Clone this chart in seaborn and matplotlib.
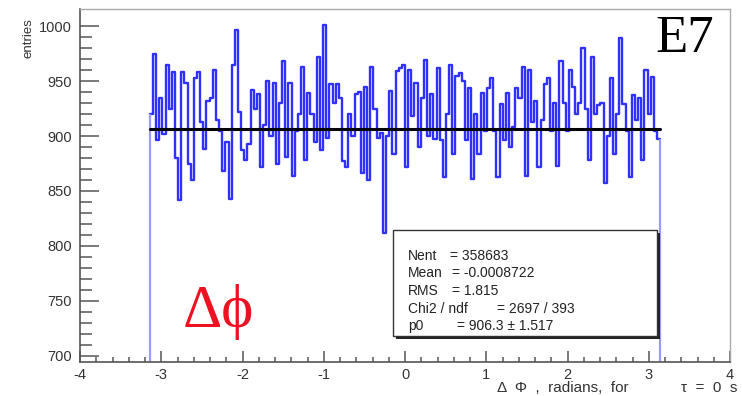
import numpy as np
import pandas as pd
import matplotlib
matplotlib.use("Agg")
import matplotlib.pyplot as plt
import seaborn as sns
from matplotlib.ticker import MultipleLocator, FixedLocator
from matplotlib.patches import Rectangle

# ---------------- data ----------------
counts = [
    920, 975, 896, 935, 902, 965, 925, 958, 880, 842, 958, 948, 875, 860, 953, 958,
    913, 888, 932, 935, 960, 915, 905, 868, 895, 843, 965, 996, 922, 887, 878, 893,
    942, 925, 938, 872, 910, 950, 900,
    948, 875, 930, 968, 881, 948, 864, 905, 920, 963, 878, 939, 920, 895, 972, 887,
    1001, 898, 947, 930, 947, 935, 877, 872, 920, 900, 938, 940, 866, 945, 860, 963,
    925, 898, 903, 812, 900, 941, 884, 959, 962,
    965, 872, 960, 918, 948, 890, 935, 969, 900, 938, 897, 962, 896, 863, 920, 965,
    884, 955, 957, 950, 896, 944, 861, 920, 884, 939, 905, 944, 953, 905, 863, 929,
    896, 939, 890, 908, 944, 935, 963, 864, 960, 913,
    932, 872, 915, 947, 953, 905, 930, 873, 968, 930, 905, 960, 945, 920, 930, 980,
    925, 878, 972, 920, 928, 930, 857, 900, 953, 884, 920, 989, 929, 905, 863, 937,
    915, 935, 878, 960, 920, 954, 905, 897,
]
x_range = [-np.pi, np.pi]
fit_p0 = 906.3
x_ticks = [-4, -3, -2, -1, 0, 1, 2, 3, 4]
y_ticks = [700, 750, 800, 850, 900, 950, 1000]
stat_labels = ["Nent", "Mean", "RMS", "Chi2 / ndf", "p0"]
stat_values = ["= 358683", "= -0.0008722", "= 1.815", "= 2697 / 393", "= 906.3 \u00b1 1.517"]

# ---------------- figure ----------------
sns.set_theme(style="white")
plt.rcParams["font.family"] = ["Liberation Sans", "DejaVu Sans"]

W, H = 742, 396
fig = plt.figure(figsize=(W / 100, H / 100), dpi=100)
fig.patch.set_facecolor("white")


def fx(px):
    return px / W


def fy(py):
    return 1 - py / H


ax = fig.add_axes([fx(80), fy(362), fx(730) - fx(80), fy(9) - fy(362)])
ax.set_facecolor("white")
y_lo, y_hi = 694.5, 1015.5

edges = np.linspace(x_range[0], x_range[1], len(counts) + 1)
centers = 0.5 * (edges[:-1] + edges[1:])
df = pd.DataFrame({"phi": centers, "n": np.asarray(counts, dtype=float)})
sns.histplot(data=df, x="phi", weights="n", bins=len(counts), binrange=tuple(x_range),
             element="step", fill=False, color="#3030ff", linewidth=1.7, ax=ax)
# outer edges of the histogram dropping to the baseline
ax.vlines([edges[0], edges[-1]], y_lo - 10, [counts[0], counts[-1]],
          color="#9a9aff", linewidth=1.6)

fit_df = pd.DataFrame({"x": x_range, "y": [fit_p0, fit_p0]})
sns.lineplot(data=fit_df, x="x", y="y", color="black", linewidth=2.2, ax=ax)

ax.set_xlim(-4, 4)
ax.set_ylim(y_lo, y_hi)
ax.set_xticks(x_ticks)
ax.set_xticklabels([str(t) for t in x_ticks])
ax.set_yticks(y_ticks)
ax.set_yticklabels([str(t) for t in y_ticks])
ax.xaxis.set_minor_locator(MultipleLocator(0.2))
ax.yaxis.set_minor_locator(FixedLocator(list(range(700, 1001, 10))))
ax.set_xlabel("")
ax.set_ylabel("")

tick_col = "#555555"
ax.tick_params(axis="both", which="both", direction="in", color=tick_col,
               labelcolor="#333333", labelsize=10.5, width=1.1)
ax.tick_params(axis="y", which="both", pad=6)
ax.tick_params(axis="x", which="both", pad=4)
ax.tick_params(axis="y", which="major", length=13.5, left=True)
ax.tick_params(axis="y", which="minor", length=8.5, left=True)
ax.tick_params(axis="x", which="major", length=8, bottom=True)
ax.tick_params(axis="x", which="minor", length=3.6, bottom=True)

for s in ["left", "bottom"]:
    ax.spines[s].set_color("#555555")
    ax.spines[s].set_linewidth(1.2)
for s in ["top", "right"]:
    ax.spines[s].set_color("#aaaaaa")
    ax.spines[s].set_linewidth(1.0)

# ---------------- stats box ----------------
bx0, by0, bx1, by1 = 393, 230, 657, 336
fig.patches.append(Rectangle((fx(bx0 + 3), fy(by1 + 3)), fx(bx1) - fx(bx0), fy(by0) - fy(by1),
                             transform=fig.transFigure, facecolor="#222222",
                             edgecolor="none", zorder=5))
fig.patches.append(Rectangle((fx(bx0), fy(by1)), fx(bx1) - fx(bx0), fy(by0) - fy(by1),
                             transform=fig.transFigure, facecolor="white",
                             edgecolor="#333333", linewidth=1.0, zorder=6))
line_y = [256, 273, 291, 309, 326]
value_x = [450, 452, 452, 497, 457]
for lab, val, yy, vx in zip(stat_labels, stat_values, line_y, value_x):
    fig.text(fx(408), fy(yy), lab, fontsize=10, color="#222222", ha="left", va="center", zorder=7)
    fig.text(fx(vx), fy(yy), val, fontsize=10, color="#222222", ha="left", va="center", zorder=7)

# ---------------- other texts ----------------
fig.text(fx(29), fy(38), "entries", rotation=90, fontsize=9.5, color="#333333",
         ha="center", va="center")
fig.text(fx(497), fy(388), "\u0394  \u03a6  ,  radians,  for", fontsize=11,
         color="#333333", ha="left", va="center")
fig.text(fx(737), fy(388), "\u03c4  =  0  s", fontsize=11,
         color="#333333", ha="right", va="center")
fig.text(fx(655), fy(52), "E7", fontsize=38, family=["Liberation Serif", "DejaVu Serif"],
         color="black", ha="left", va="baseline")
fig.text(fx(183), fy(327), "\u0394\u03d5", fontsize=44, family=["Liberation Serif", "DejaVu Serif"],
         color="#ee1122", ha="left", va="baseline")

fig.savefig("out.png", dpi=100, facecolor="white")
